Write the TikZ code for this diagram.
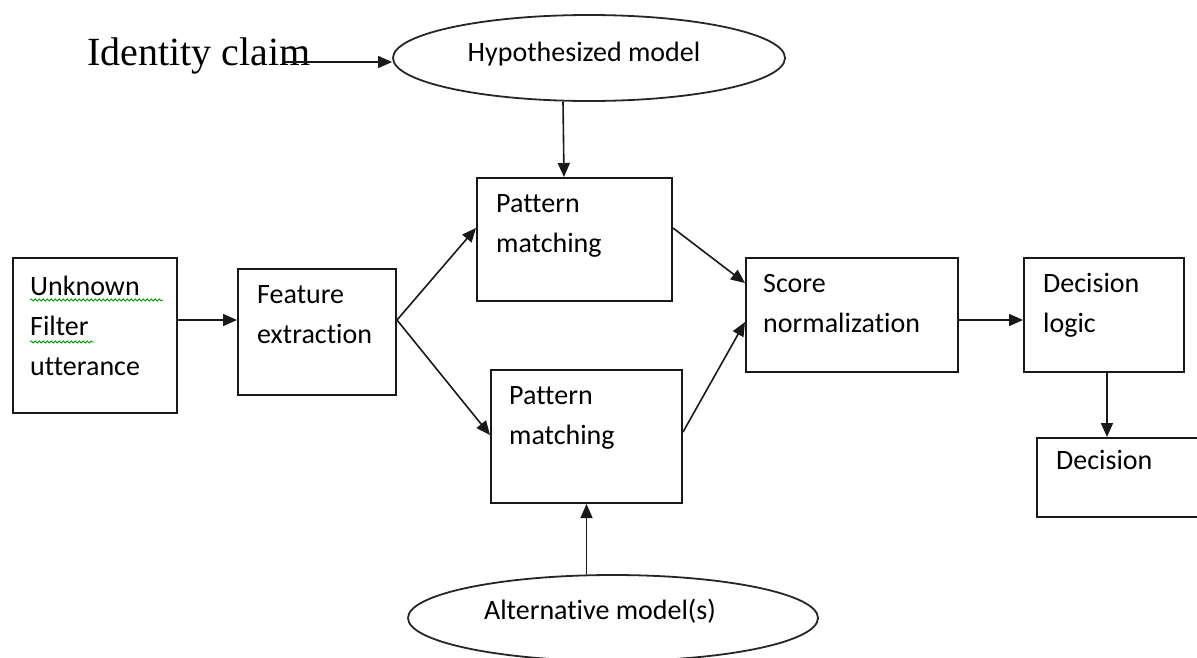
\documentclass[tikz,border=0pt]{standalone}
\usepackage{fontspec}
\setmainfont{Carlito}[Ligatures={NoCommon}]
\newfontfamily\serifid{Liberation Serif}
\usetikzlibrary{arrows.meta,calc,shapes.geometric,decorations.pathmorphing}
\begin{document}
\begin{tikzpicture}[x=1pt,y=-1pt,
 box/.style={draw=black!90,line width=2pt,inner sep=0pt,anchor=north west},
 oval/.style={draw=black!85,line width=1.8pt,ellipse,inner sep=0pt},
 lbl/.style={font=\fontsize{28}{40}\selectfont,inner sep=0pt,align=left,anchor=north west,text=black},
 arr/.style={draw=black!90,line width=1.6pt,-{Triangle[length=14pt,width=12pt]}},
 wavy/.style={draw=green!60!black,line width=0.8pt,decorate,decoration={snake,amplitude=1.1pt,segment length=4pt}}]
\useasboundingbox (0,0) rectangle (1197,657);
\fill[white] (0,0) rectangle (1197,657);

% boxes
\node[box,minimum width=164pt,minimum height=155pt] (unk) at (12,257) {};
\node[box,minimum width=158pt,minimum height=126pt] (feat) at (237,268) {};
\node[box,minimum width=195pt,minimum height=123pt] (pm1) at (476,177) {};
\node[box,minimum width=191pt,minimum height=133pt] (pm2) at (490,369) {};
\node[box,minimum width=212pt,minimum height=114pt] (score) at (745,257) {};
\node[box,minimum width=160pt,minimum height=114pt] (dlogic) at (1023,257) {};
\node[box,minimum width=179pt,minimum height=79pt] (dec) at (1036,437) {};

% ellipses
\node[oval,minimum width=392pt,minimum height=86pt] (hyp) at (589,58) {};
\node[oval,minimum width=410pt,minimum height=86pt] (alt) at (613,618) {};

% texts
\node[lbl] (tunk) at ($(unk.north west)+(18,13)$) {\rule{0pt}{25pt}Unknown\\Filter\\utterance};
\node[lbl] (tfeat) at ($(feat.north west)+(20,10)$) {\rule{0pt}{25pt}Feature\\extraction};
\node[lbl] (tpm1) at ($(pm1.north west)+(20,10)$) {\rule{0pt}{25pt}Pattern\\matching};
\node[lbl] (tpm2) at ($(pm2.north west)+(19,10)$) {\rule{0pt}{25pt}Pattern\\matching};
\node[lbl] (tscore) at ($(score.north west)+(18,10)$) {\rule{0pt}{25pt}Score\\normalization};
\node[lbl] (tdlogic) at ($(dlogic.north west)+(20,10)$) {\rule{0pt}{25pt}Decision\\logic};
\node[lbl] (tdec) at ($(dec.north west)+(20,7)$) {\rule{0pt}{25pt}Decision};
\node[lbl,anchor=base] (thyp) at (584,61) {Hypothesized model};
\node[lbl,anchor=base] (talt) at (600,619) {Alternative model(s)};
\node[inner sep=0pt,anchor=base west,font=\serifid\fontsize{40}{48}\selectfont,text=black] (idc) at (87,65) {Identity claim};

% spell-check underlines
\draw[wavy] ($(tunk.north west)+(0,30)$) -- ++(133,0);
\draw[wavy] ($(tunk.north west)+(0,72)$) -- ++(64,0);

% connectors
\coordinate (idcend) at (285,62);
\draw[arr] (idcend) -- (hyp.west |- idcend);
\draw[arr] ($(hyp.south)+(-26,0)$) -- ($(pm1.north)+(-10.5,0)$);
\draw[arr] (alt.north -| pm2.south) -- (pm2.south);
\draw[arr] ($(unk.north east)+(0,63)$) -- ($(feat.north west)+(0,52)$);
\draw[arr] ($(feat.north east)+(0,52)$) -- ($(pm1.north west)+(0,51)$);
\draw[arr] ($(feat.north east)+(0,52)$) -- ($(pm2.north west)+(0,66)$);
\draw[arr] ($(pm1.north east)+(0,51)$) -- ($(score.north west)+(0,26)$);
\draw[arr] ($(pm2.north east)+(0,63)$) -- ($(score.north west)+(0,65)$);
\draw[arr] ($(score.north east)+(0,63)$) -- ($(dlogic.north west)+(0,63)$);
\draw[arr] ($(dlogic.south west)+(84,0)$) -- ($(dec.north west)+(71,0)$);
\end{tikzpicture}
\end{document}
